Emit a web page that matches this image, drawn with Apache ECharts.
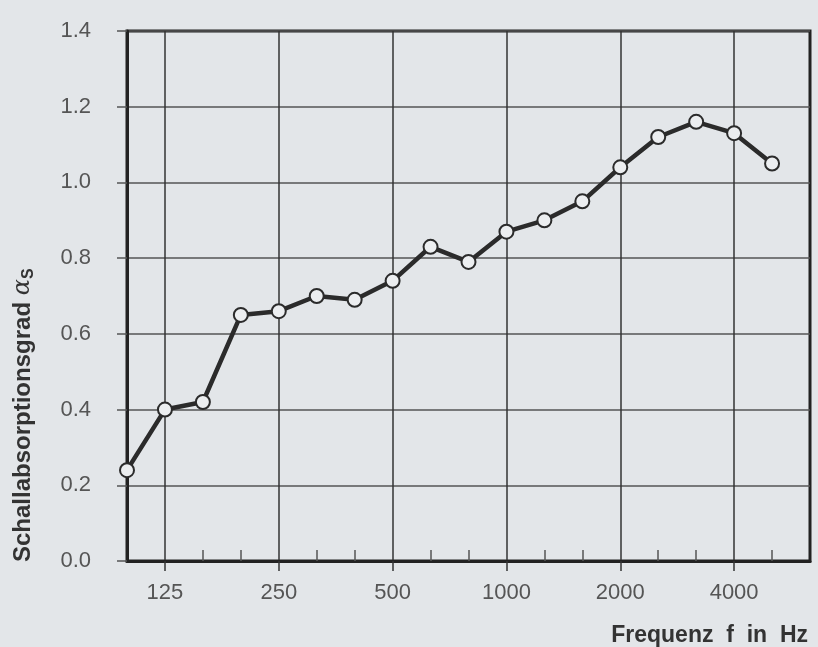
<!DOCTYPE html>
<html><head><meta charset="utf-8">
<script src="https://cdn.jsdelivr.net/npm/echarts@6/dist/echarts.min.js"></script>
<style>html,body{margin:0;padding:0;background:#e3e6e9;}#c{width:818px;height:647px;}</style>
</head><body><div id="c"></div>
<script>
const frequencies = ['100','125','160','200','250','315','400','500','630','800','1000','1250','1600','2000','2500','3150','4000','5000','6300'];
const absorption = [0.24,0.40,0.42,0.65,0.66,0.70,0.69,0.74,0.83,0.79,0.87,0.90,0.95,1.04,1.12,1.16,1.13,1.05];
const yTicks = [0.0,0.2,0.4,0.6,0.8,1.0,1.2,1.4];
const octaveLabels = ['125','250','500','1000','2000','4000'];
const yAxisTitle = 'Schallabsorptionsgrad ';
const yAxisSymbol = 'α';
const yAxisSub = 'S';
const xAxisTitle = 'Frequenz  f  in  Hz';

const FONT = 'Liberation Sans, Arial, sans-serif';
const isOctave = (i) => octaveLabels.indexOf(frequencies[i]) >= 0;
const isMinor = (i) => !isOctave(i) && i !== 0 && i !== frequencies.length - 1;

const chart = echarts.init(document.getElementById('c'), null, {renderer:'canvas'});
chart.setOption({
  backgroundColor: '#e3e6e9',
  animation: false,
  grid: {left:127, right:8, top:31, bottom:86, show:true, borderColor:'#222', borderWidth:3, backgroundColor:'transparent'},
  xAxis: [{
    type:'category', data: frequencies, boundaryGap:false, position:'bottom',
    axisLine:{show:true, lineStyle:{color:'#222', width:3}},
    axisTick:{show:true, inside:true, length:11, interval:(i)=>isMinor(i), lineStyle:{color:'#555', width:1.5}},
    axisLabel:{interval:(i)=>isOctave(i), fontSize:22, color:'#555', fontFamily:FONT, margin:21},
    splitLine:{show:true, interval:(i)=>isOctave(i), lineStyle:{color:'#333', width:1.5}}
  },{
    type:'category', data: frequencies, boundaryGap:false, position:'bottom', offset:0,
    axisLine:{show:false},
    axisTick:{show:true, inside:false, length:10, interval:(i)=>isOctave(i), lineStyle:{color:'#333', width:1.5}},
    axisLabel:{show:false}, splitLine:{show:false}
  }],
  yAxis: {
    type:'value', min:yTicks[0], max:yTicks[yTicks.length-1], interval:0.2,
    axisLine:{show:true, lineStyle:{color:'#222', width:3}},
    axisTick:{show:true, length:10, lineStyle:{color:'#555', width:1.5}},
    axisLabel:{formatter:(v)=>v.toFixed(1), fontSize:22, color:'#555', fontFamily:FONT, margin:36},
    splitLine:{show:true, lineStyle:{color:'#555', width:1.5}}
  },
  series: [{
    type:'line', data: absorption, xAxisIndex:0,
    symbol:'circle', symbolSize:14,
    lineStyle:{color:'#2b2b2b', width:4.5},
    itemStyle:{color:'#eceef0', borderColor:'#2b2b2b', borderWidth:2},
    z:5
  }],
  graphic: [
    {type:'text', x:23, y:562, rotation:Math.PI/2, z:10,
     style:{text:'{a|'+yAxisTitle+'}{b|'+yAxisSymbol+'}{c|'+yAxisSub+'}', textAlign:'left', textVerticalAlign:'middle',
       rich:{a:{fontSize:24, fontWeight:'bold', fill:'#333', fontFamily:FONT},
             b:{fontSize:24, fontStyle:'italic', fill:'#333', fontFamily:'DejaVu Serif, serif'},
             c:{fontSize:16, fontWeight:'bold', fill:'#333', fontFamily:FONT, padding:[12,0,0,0]}}}},
    {type:'text', x:808, y:636, z:10,
     style:{text:xAxisTitle, textAlign:'right', textVerticalAlign:'middle', fontSize:23, fontWeight:'bold', fill:'#333', fontFamily:FONT}}
  ]
});
</script></body></html>
